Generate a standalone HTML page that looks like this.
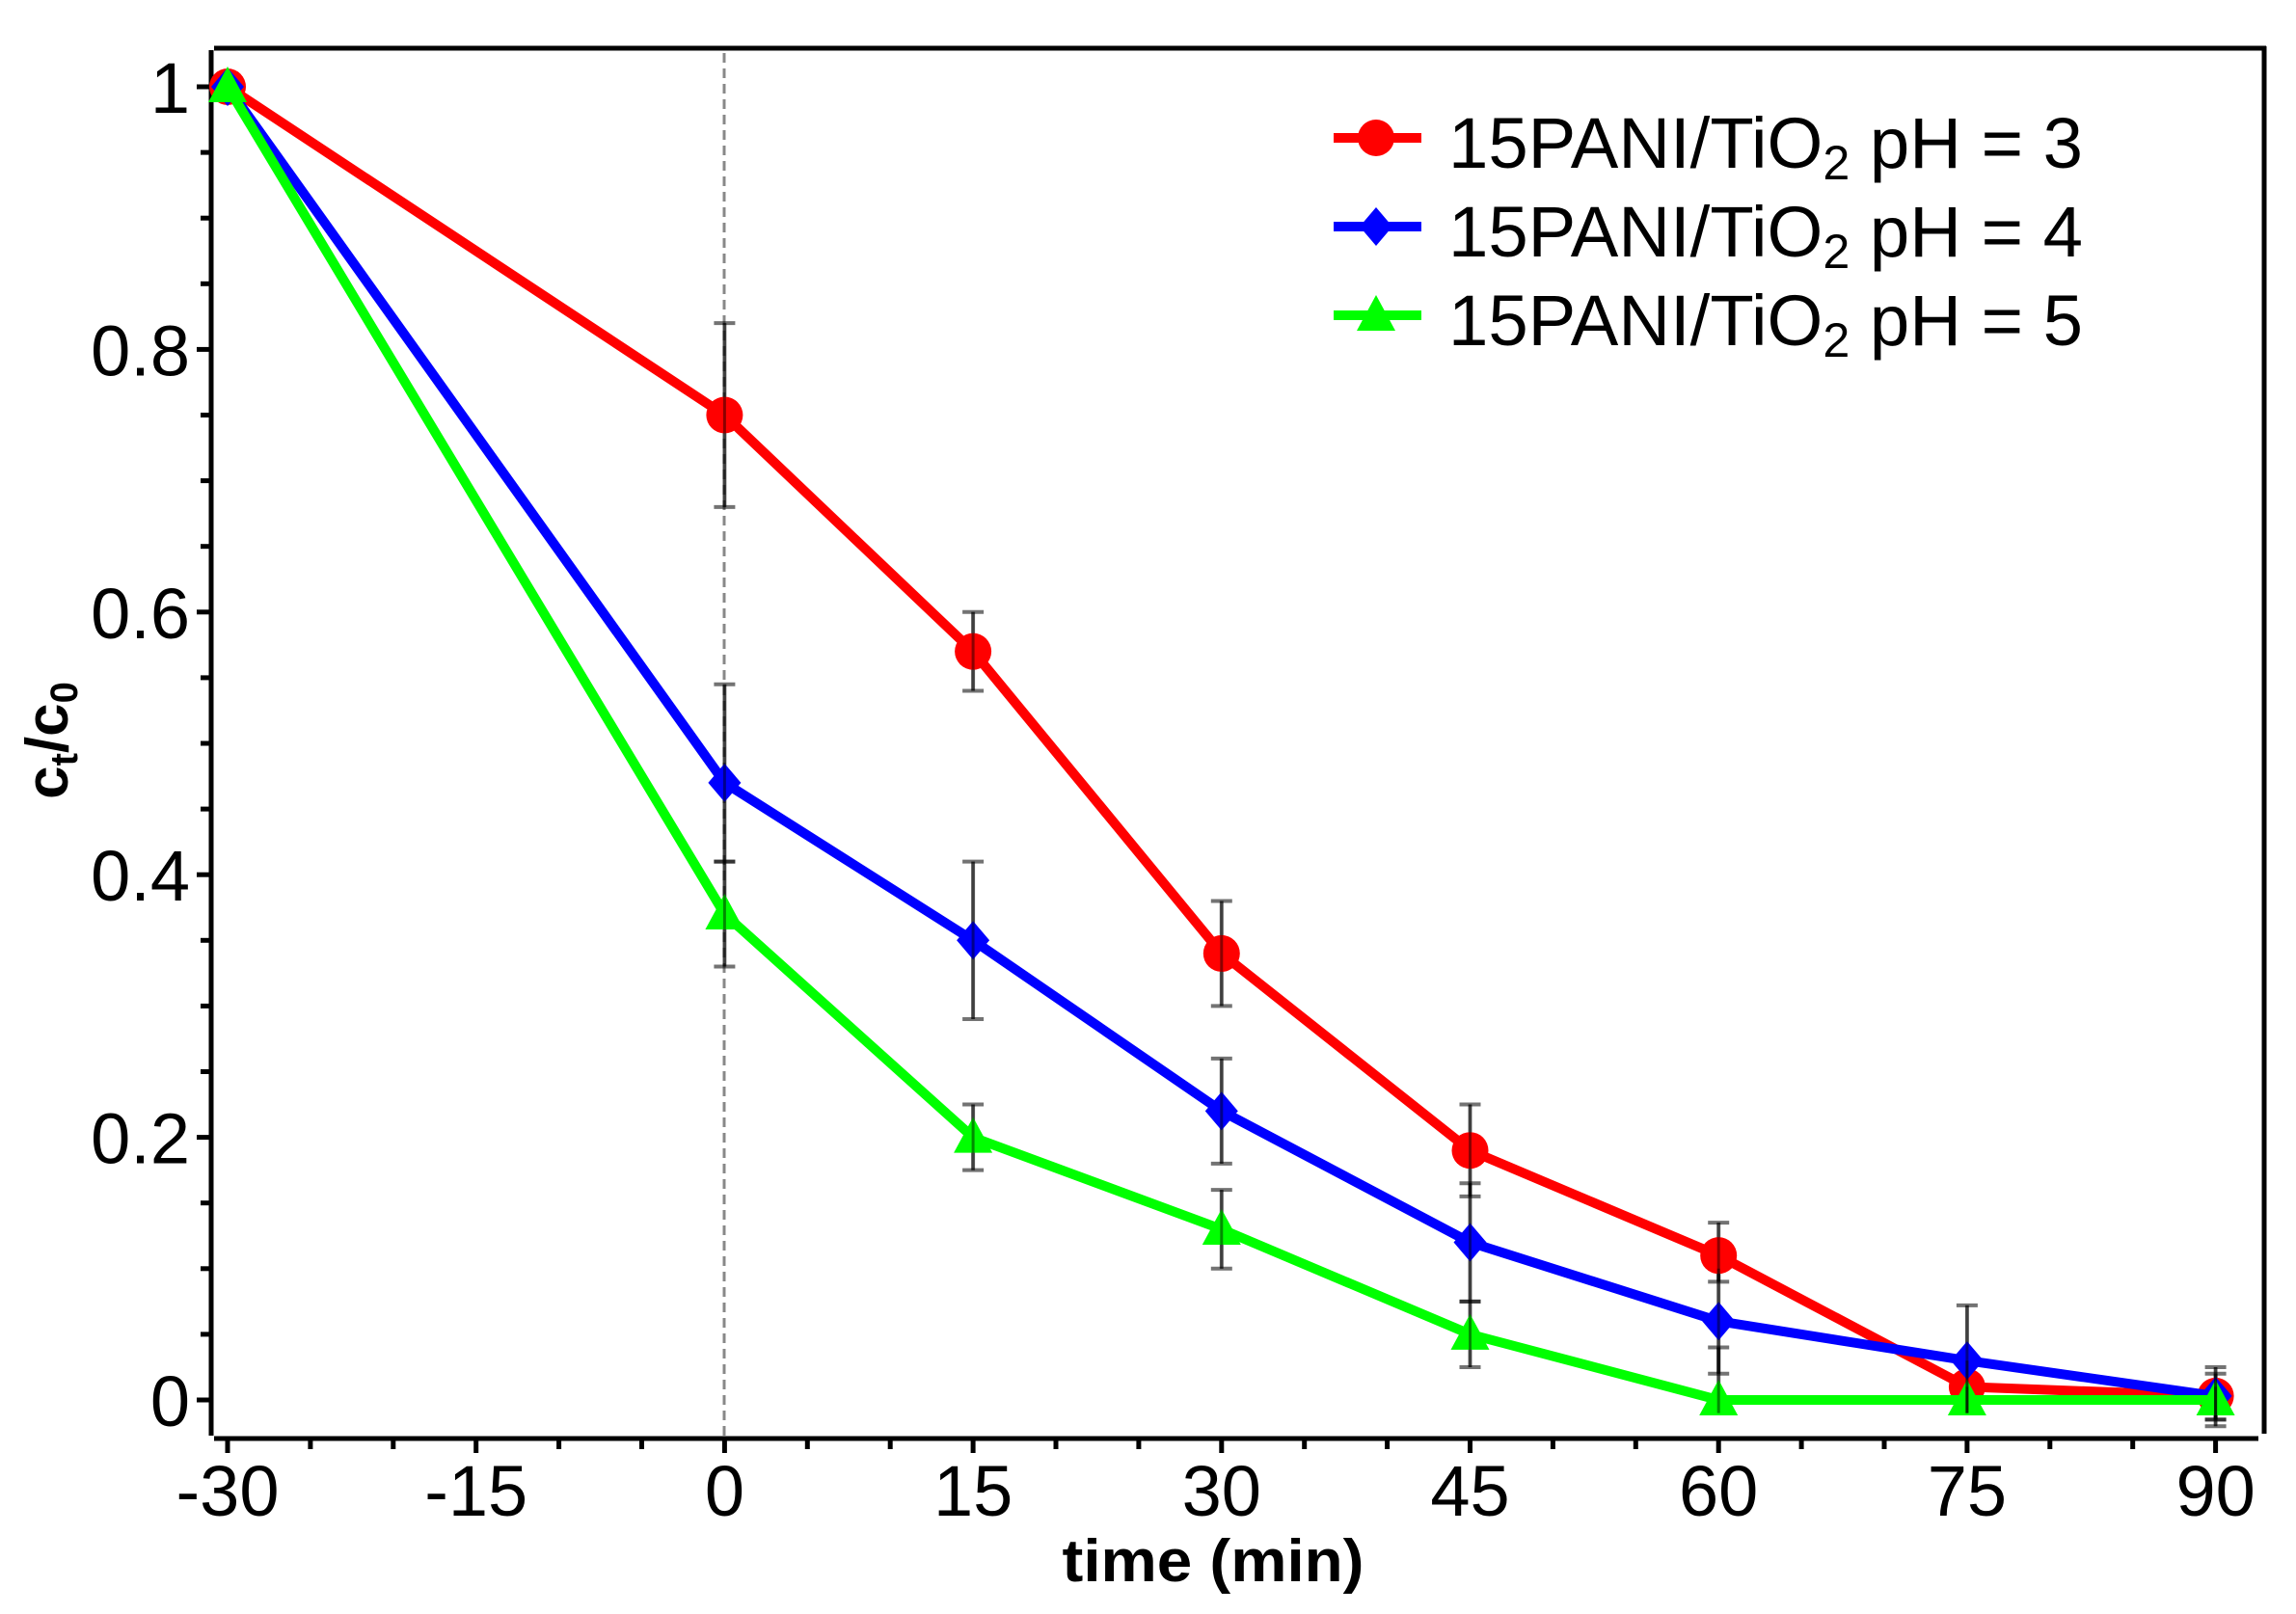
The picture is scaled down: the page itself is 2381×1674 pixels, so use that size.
<!DOCTYPE html>
<html><head><meta charset="utf-8"><style>
html,body{margin:0;padding:0;background:#fff;}
svg{display:block;}
text{font-family:"Liberation Sans","DejaVu Sans",sans-serif;fill:#000;}
</style></head><body>
<svg id="s" width="2381" height="1674" viewBox="0 0 2381 1674" xmlns="http://www.w3.org/2000/svg">
<rect width="2381" height="1674" fill="#fff"/>
<g stroke="#000" stroke-width="5" fill="none">
<line x1="222" y1="50" x2="2350" y2="50"/>
<line x1="2348" y1="48" x2="2348" y2="1487"/>
<line x1="219" y1="52" x2="219" y2="1489"/>
<line x1="222" y1="1492" x2="2342" y2="1492"/>
</g>
<line x1="751" y1="55" x2="751" y2="1490" stroke="#888" stroke-width="3" stroke-dasharray="10,6"/>
<g id="ticks" stroke="#000" stroke-width="5"></g>
<g id="labels" font-size="74"></g>
<g id="err" stroke="#000" stroke-opacity="0.55" stroke-width="4"></g>
<g id="series"></g>
<text x="1258" y="1640" font-size="62" font-weight="bold" text-anchor="middle" textLength="313" lengthAdjust="spacingAndGlyphs">time (min)</text>
<text transform="translate(70,768) rotate(-90)" font-size="62" font-weight="bold" text-anchor="middle">c<tspan font-size="40" dy="10">t</tspan><tspan dy="-10">/c</tspan><tspan font-size="40" dy="10">0</tspan></text>
<g id="legend"></g>
</svg>
<script>
var NS="http://www.w3.org/2000/svg";
function X(t){return 236+(t+30)*17.18;}
function Y(v){return 1452-v*1362;}
function el(p,n,a,txt){var e=document.createElementNS(NS,n);for(var k in a)e.setAttribute(k,a[k]);if(txt!==undefined)e.textContent=txt;document.getElementById(p).appendChild(e);return e;}
for(var t=-30;t<=90;t+=5){var maj=(t%15===0);el("ticks","line",{x1:X(t),y1:1492,x2:X(t),y2:maj?1507:1503});
 if(maj)el("labels","text",{x:X(t),y:1572,"text-anchor":"middle"},String(t));}
for(var i=0;i<=20;i++){var v=i*0.05;var maj=(i%4===0);el("ticks","line",{x1:maj?204:208,y1:Y(v),x2:219,y2:Y(v)});
 if(maj){var s=(i===0)?"0":(i===20?"1":(v.toFixed(1)));el("labels","text",{x:197,y:Y(v)+27,"text-anchor":"end"},s);}}
var T=[-30,0,15,30,45,60,75,90];
var S=[
 {c:"#ff0000",m:"o",d:[1,0.75,0.57,0.34,0.19,0.11,0.01,0.003],e:[[1,1],[0.68,0.82],[0.54,0.60],[0.30,0.38],[0.155,0.225],[0.09,0.135],[-0.01,0.03],[-0.02,0.025]]},
 {c:"#0000ff",m:"d",d:[1,0.47,0.35,0.22,0.12,0.06,0.03,0.003],e:[[1,1],[0.41,0.545],[0.29,0.41],[0.18,0.26],[0.075,0.165],[0.02,0.10],[-0.01,0.072],[-0.015,0.02]]},
 {c:"#00ff00",m:"t",d:[1,0.37,0.2,0.13,0.05,0,0,0],e:[[1,1],[0.33,0.41],[0.175,0.225],[0.10,0.16],[0.025,0.075],[-0.01,0.04],[-0.01,0.01],[-0.015,0.01]]}
];
function marker(g,m,x,y,c){
 if(m==="o")el(g,"circle",{cx:x,cy:y,r:19,fill:c});
 else if(m==="d")el(g,"polygon",{points:[x,y-20,x+17,y,x,y+20,x-17,y].join(" "),fill:c});
 else el(g,"polygon",{points:[x,y-21,x+20,y+16,x-20,y+16].join(" "),fill:c});
}
S.forEach(function(s){
 s.e.forEach(function(r,k){if(r[0]===r[1])return;var x=X(T[k]);
  el("err","line",{x1:x,y1:Y(r[0]),x2:x,y2:Y(r[1])});
  el("err","line",{x1:x-11,y1:Y(r[0]),x2:x+11,y2:Y(r[0])});
  el("err","line",{x1:x-11,y1:Y(r[1]),x2:x+11,y2:Y(r[1])});});
 el("series","polyline",{points:T.map(function(t,k){return X(t)+","+Y(s.d[k]);}).join(" "),fill:"none",stroke:s.c,"stroke-width":10,"stroke-linejoin":"round"});
 T.forEach(function(t,k){marker("series",s.m,X(t),Y(s.d[k]),s.c);});
});
S.forEach(function(s){s.e.forEach(function(r,k){if(r[0]===r[1])return;var x=X(T[k]);
 el("series","line",{x1:x,y1:Y(r[0]),x2:x,y2:Y(r[1]),stroke:"#000","stroke-opacity":0.45,"stroke-width":3});});});
var ly=[143,235,327],lab=["3","4","5"];
S.forEach(function(s,i){
 el("legend","line",{x1:1383,y1:ly[i],x2:1474,y2:ly[i],stroke:s.c,"stroke-width":10});
 marker("legend",s.m,1427,ly[i],s.c);
 var t=el("legend","text",{x:1502,y:ly[i]+31,"font-size":74,textLength:658,lengthAdjust:"spacingAndGlyphs"});
 t.innerHTML='15PANI/TiO<tspan font-size="50" dy="12">2</tspan><tspan dy="-12"> pH = '+lab[i]+'</tspan>';
});
</script>
</body></html>
